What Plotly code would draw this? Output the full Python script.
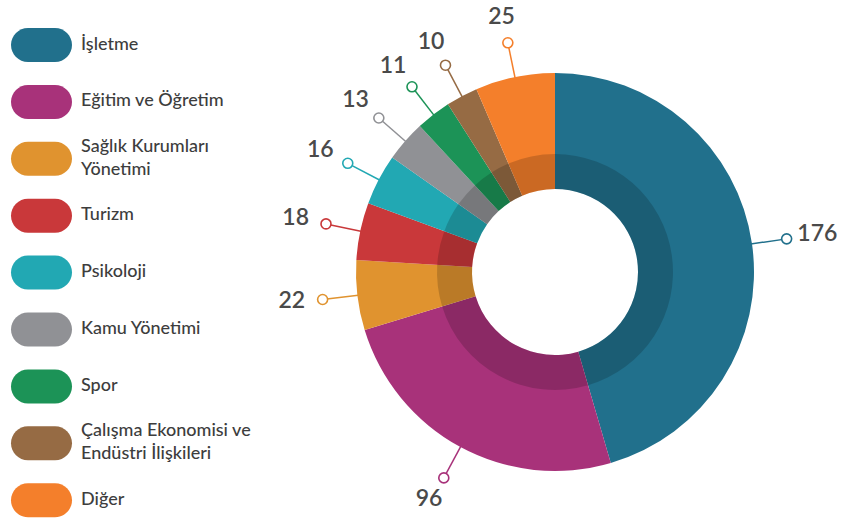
import math
import plotly.graph_objects as go

# ---------------- data ----------------
categories = ["İşletme", "Eğitim ve Öğretim", "Sağlık Kurumları<br>Yönetimi", "Turizm",
              "Psikoloji", "Kamu Yönetimi", "Spor",
              "Çalışma Ekonomisi ve<br>Endüstri İlişkileri", "Diğer"]
values = [176, 96, 22, 18, 16, 13, 11, 10, 25]
colors = ["#21708c", "#a8327a", "#e0932f", "#c9383a", "#22a8b3",
          "#909195", "#1c9357", "#966b44", "#f47f2b"]

# ---------------- geometry (pixels) ----------------
W, H = 841, 520
CX, CY = 555, 272
R_OUT, R_BAND, R_HOLE = 199, 118, 83
R_CIRCLE = 234
TXT_DX, TXT_DY = 31, 25   # text offset beyond the circle (horizontal / vertical)

def domain(r):
    return dict(x=[(CX - r) / W, (CX + r) / W], y=[1 - (CY + r) / H, 1 - (CY - r) / H])

fig = go.Figure()

fig.add_trace(go.Pie(
    values=values, labels=categories, sort=False, direction="clockwise", rotation=0,
    hole=R_HOLE / R_OUT, domain=domain(R_OUT),
    marker=dict(colors=colors, line=dict(width=0)),
    textinfo="none", hoverinfo="label+value", showlegend=False,
))
fig.add_trace(go.Pie(
    values=values, labels=categories, sort=False, direction="clockwise", rotation=0,
    hole=R_HOLE / R_BAND, domain=domain(R_BAND),
    marker=dict(colors=["rgba(0,0,0,0.17)"] * len(values), line=dict(width=0)),
    textinfo="none", hoverinfo="skip", showlegend=False,
))

# leader lines, circles and value labels from mid-angles
total = sum(values)
cum = 0
cx_pts, cy_pts, tx, ty = [], [], [], []
for v, c in zip(values, colors):
    mid = (cum + v / 2) / total * 2 * math.pi
    cum += v
    s, co = math.sin(mid), math.cos(mid)
    px, py = CX + R_CIRCLE * s, CY - R_CIRCLE * co
    fig.add_trace(go.Scatter(
        x=[CX + (R_OUT - 3) * s, px],
        y=[CY - (R_OUT - 3) * co, py],
        mode="lines", line=dict(color=c, width=1.5),
        hoverinfo="skip", showlegend=False))
    cx_pts.append(px)
    cy_pts.append(py)
    tx.append(px + TXT_DX * s)
    ty.append(py - TXT_DY * co)

fig.add_trace(go.Scatter(
    x=cx_pts, y=cy_pts, mode="markers",
    marker=dict(size=10, color="white", line=dict(color=colors, width=1.6)),
    hoverinfo="skip", showlegend=False))
fig.add_trace(go.Scatter(
    x=tx, y=ty, mode="text", text=[str(v) for v in values],
    textposition="middle center",
    textfont=dict(family="Lato", size=23, color="#4a4a4a", weight=600),
    hoverinfo="skip", showlegend=False))

# ---------------- custom legend ----------------
LEG_Y0, LEG_STEP = 45, 56.9
PX0, PX1, PH = 11, 72, 34
shapes = []
leg_y = []
for i, c in enumerate(colors):
    yc = LEG_Y0 + i * LEG_STEP
    leg_y.append(yc)
    r = PH / 2
    k = 0.5523 * r
    y0, y1 = yc - r, yc + r
    xl, xr = PX0 + r, PX1 - r
    path = (f"M {xl},{y0} L {xr},{y0} "
            f"C {xr + k},{y0} {PX1},{yc - k} {PX1},{yc} "
            f"C {PX1},{yc + k} {xr + k},{y1} {xr},{y1} "
            f"L {xl},{y1} "
            f"C {xl - k},{y1} {PX0},{yc + k} {PX0},{yc} "
            f"C {PX0},{yc - k} {xl - k},{y0} {xl},{y0} Z")
    shapes.append(dict(type="path", path=path, xref="x", yref="y",
                       fillcolor=c, line=dict(width=0), layer="above"))

fig.add_trace(go.Scatter(
    x=[81] * len(categories), y=leg_y, mode="text", text=categories,
    textposition="middle right",
    textfont=dict(family="Lato", size=18, color="#3d3d3d", weight=500),
    hoverinfo="skip", showlegend=False))

fig.update_layout(
    width=W, height=H, margin=dict(l=0, r=0, t=0, b=0),
    paper_bgcolor="white", plot_bgcolor="rgba(0,0,0,0)",
    xaxis=dict(range=[0, W], visible=False, fixedrange=True, domain=[0, 1]),
    yaxis=dict(range=[H, 0], visible=False, fixedrange=True, domain=[0, 1]),
    shapes=shapes, showlegend=False,
)

fig.write_html("out.html", config={"displayModeBar": False},
               post_script="document.body.style.margin='0';document.body.style.overflow='hidden';")
